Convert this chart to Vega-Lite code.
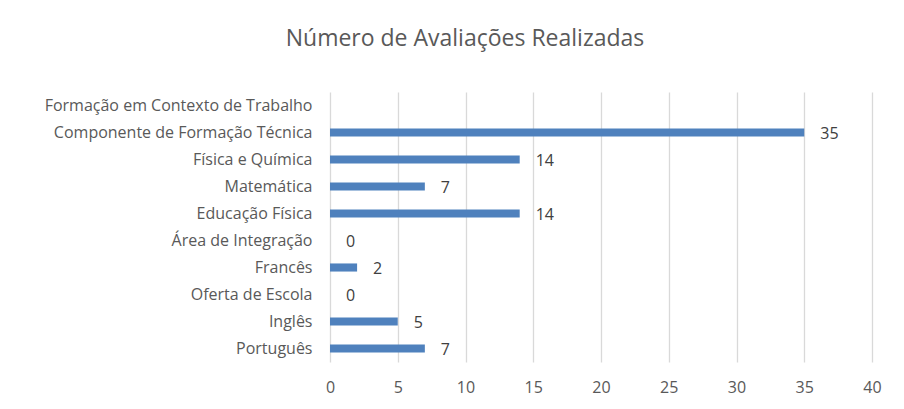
{
  "$schema": "https://vega.github.io/schema/vega-lite/v6.json",
  "width": 542,
  "height": 270,
  "autosize": {"type": "none"},
  "padding": {"left": 330, "top": 92, "right": 32, "bottom": 47},
  "background": "white",
  "title": {
    "text": "Número de Avaliações Realizadas",
    "font": "Open Sans",
    "fontSize": 23,
    "fontWeight": "normal",
    "color": "#595959",
    "anchor": "middle",
    "baseline": "alphabetic",
    "offset": 23,
    "dx": -136
  },
  "config": {
    "view": {"stroke": null},
    "text": {"font": "Open Sans"}
  },
  "data": {
    "values": [
      {"disciplina": "Formação em Contexto de Trabalho", "avaliacoes": null},
      {"disciplina": "Componente de Formação Técnica", "avaliacoes": 35},
      {"disciplina": "Física e Química", "avaliacoes": 14},
      {"disciplina": "Matemática", "avaliacoes": 7},
      {"disciplina": "Educação Física", "avaliacoes": 14},
      {"disciplina": "Área de Integração", "avaliacoes": 0},
      {"disciplina": "Francês", "avaliacoes": 2},
      {"disciplina": "Oferta de Escola", "avaliacoes": 0},
      {"disciplina": "Inglês", "avaliacoes": 5},
      {"disciplina": "Português", "avaliacoes": 7}
    ]
  },
  "encoding": {
    "y": {
      "field": "disciplina",
      "type": "nominal",
      "scale": {
        "domain": ["Formação em Contexto de Trabalho", "Componente de Formação Técnica", "Física e Química", "Matemática", "Educação Física", "Área de Integração", "Francês", "Oferta de Escola", "Inglês", "Português"],
        "paddingInner": 0.7,
        "paddingOuter": 0.35
      },
      "axis": {
        "title": null,
        "domain": false,
        "ticks": false,
        "grid": false,
        "labelPadding": 18,
        "labelFont": "Open Sans",
        "labelFontSize": 16,
        "labelColor": "#595959",
        "labelLimit": 400
      }
    },
    "x": {
      "field": "avaliacoes",
      "type": "quantitative",
      "scale": {"domain": [0, 40], "nice": false},
      "axis": {
        "title": null,
        "values": [0, 5, 10, 15, 20, 25, 30, 35, 40],
        "domain": false,
        "ticks": false,
        "grid": true,
        "gridColor": "#D9D9D9",
        "gridWidth": 1.3,
        "labelFlush": false,
        "labelPadding": 17,
        "labelFont": "Open Sans",
        "labelFontSize": 16,
        "labelColor": "#595959"
      }
    }
  },
  "layer": [
    {
      "mark": {"type": "bar", "color": "#4F81BD"}
    },
    {
      "mark": {"type": "text", "align": "left", "baseline": "middle", "dx": 16, "dy": 1, "fontSize": 16, "color": "#404040"},
      "encoding": {
        "text": {"field": "avaliacoes", "type": "quantitative"}
      }
    }
  ]
}
